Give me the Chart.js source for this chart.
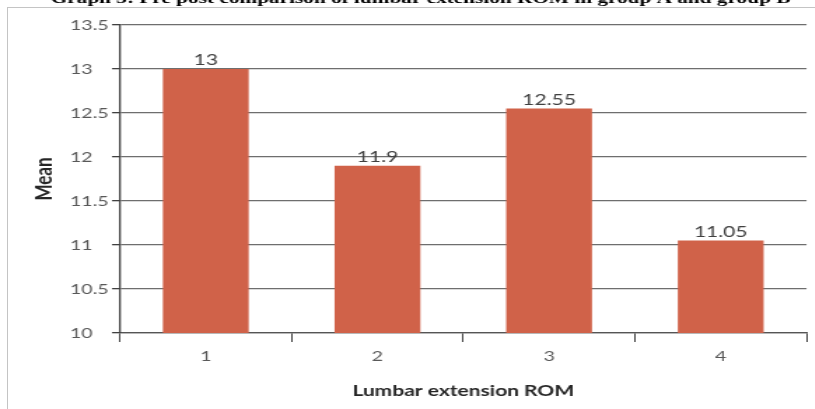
<!DOCTYPE html>
<html>
<head>
<meta charset="utf-8">
<script src="https://cdn.jsdelivr.net/npm/chart.js@4/dist/chart.umd.min.js"></script>
<style>
  html, body { margin: 0; padding: 0; background: #fff; overflow: hidden; width: 815px; height: 409px; }
  #frame { position: absolute; left: 7px; top: 7px; width: 900px; height: 500px;
           border-left: 1px solid #c4c4c4; border-top: 1px solid #c4c4c4; }
  /* the chart is laid out narrow and widened horizontally, like the printed figure */
  #wrap { position: absolute; left: 0; top: 0; width: 582.14px; height: 409px;
          transform: scaleX(1.4); transform-origin: 0 0; }
</style>
</head>
<body>
<div id="frame"></div>
<div id="wrap"><canvas id="c"></canvas></div>
<script>
const caption = 'Graph 3: Pre post comparison of lumbar extension ROM in group A and group B';
const categories = ['1', '2', '3', '4'];
const means = [13, 11.9, 12.55, 11.05];
const yTickValues = [10, 10.5, 11, 11.5, 12, 12.5, 13, 13.5];
const xTitle = 'Lumbar extension ROM';
const yTitle = 'Mean';

// Figure caption across the top edge
const captionPlugin = {
  id: 'caption',
  afterDraw(chart, args, opts) {
    const ctx = chart.ctx;
    ctx.save();
    ctx.font = 'bold 15.2px "Liberation Serif"';
    ctx.fillStyle = '#000';
    ctx.textAlign = 'center';
    ctx.textBaseline = 'alphabetic';
    ctx.fillText(opts.text, opts.x, opts.y);
    ctx.restore();
  }
};

// Value written above each bar
const valueLabels = {
  id: 'valueLabels',
  afterDatasetsDraw(chart, args, opts) {
    const ctx = chart.ctx;
    const ds = chart.data.datasets[0];
    const meta = chart.getDatasetMeta(0);
    ctx.save();
    ctx.font = '15px Lato';
    ctx.fillStyle = '#404040';
    ctx.textAlign = 'center';
    ctx.textBaseline = 'alphabetic';
    meta.data.forEach((bar, i) => {
      ctx.fillText(String(ds.data[i]), bar.x, bar.y - opts.gap);
    });
    ctx.restore();
  }
};

new Chart(document.getElementById('c'), {
  type: 'bar',
  data: {
    labels: categories,
    datasets: [{
      data: means,
      backgroundColor: '#d06249',
      borderWidth: 0,
      categoryPercentage: 1,
      barPercentage: 0.5
    }]
  },
  options: {
    responsive: true,
    maintainAspectRatio: false,
    animation: false,
    layout: { padding: { left: 50, right: 6, top: 25, bottom: 6 } },
    plugins: {
      legend: { display: false },
      tooltip: { enabled: false },
      caption: { text: caption, x: 300.4, y: 2.5 },
      valueLabels: { gap: 4 }
    },
    scales: {
      x: {
        offset: true,
        grid: {
          offset: true,
          drawOnChartArea: true,
          color: c => (c.index === categories.length ? '#c8c8c8' : 'rgba(0,0,0,0)'),
          tickColor: '#404040',
          tickLength: 9,
          lineWidth: 1
        },
        border: { display: true, color: '#555555', width: 1.3 },
        ticks: { color: '#595959', font: { family: 'Lato', size: 14 }, padding: 6 },
        title: {
          display: true, text: xTitle, color: '#262626',
          font: { family: 'Lato', size: 15, weight: 'bold' },
          padding: { top: 0, bottom: 3 }
        },
        afterFit: s => { s.height = 70; }
      },
      y: {
        min: yTickValues[0],
        max: yTickValues[yTickValues.length - 1],
        afterBuildTicks: s => { s.ticks = yTickValues.map(v => ({ value: v })); },
        grid: { color: '#6e6e6e', lineWidth: 1.3, tickLength: 5.7, tickColor: '#404040' },
        border: { color: '#404040', width: 1.3 },
        ticks: {
          crossAlign: 'far', color: '#595959',
          font: { family: 'Lato', size: 14 },
          callback: v => String(v)
        },
        title: {
          display: true, text: yTitle, color: '#262626',
          font: { family: 'Lato', size: 17, weight: 'bold' },
          padding: { top: -28.2, bottom: 0 }
        },
        afterFit: s => { s.width = 35.7; }
      }
    }
  },
  plugins: [captionPlugin, valueLabels]
});
</script>
</body>
</html>
